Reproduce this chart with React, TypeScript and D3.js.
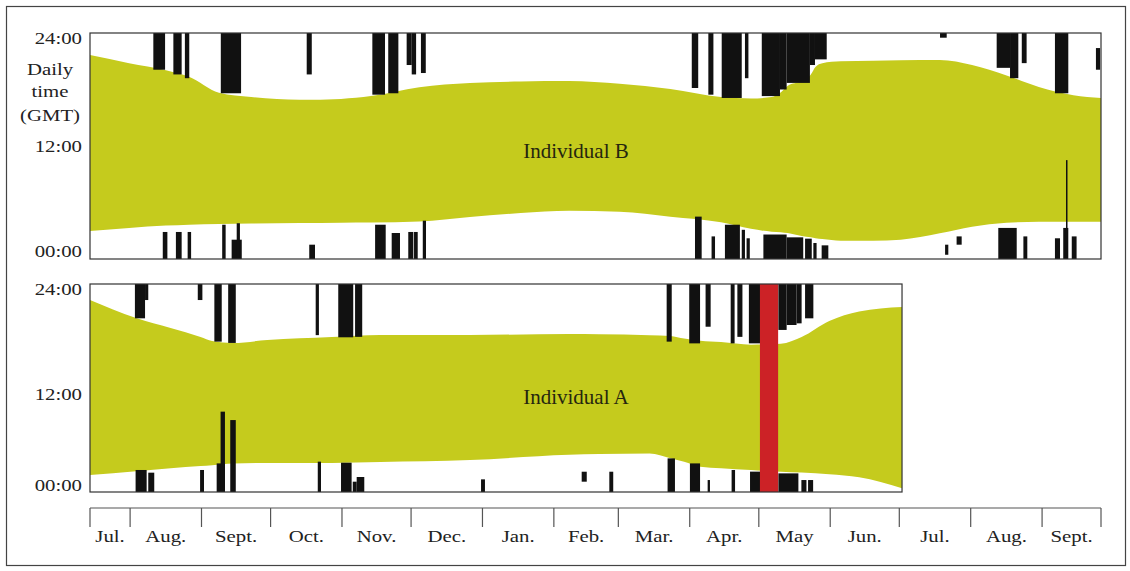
import React from "react";
import * as d3 from "d3";

// ---- time frame (tracking period) ----
const START = new Date(2009, 6, 14, 14);
const END = new Date(2010, 8, 26, 14);
const A_END_DAY = 352.6;
const MONTH_NAMES = ["Jan.", "Feb.", "Mar.", "Apr.", "May", "Jun.", "Jul.", "Aug.", "Sept.", "Oct.", "Nov.", "Dec."];
const HOUR_TICKS = [24, 12, 0];
const HOUR_LABELS = ["24:00", "12:00", "00:00"];
const Y_TITLE = ["Daily", "time", "(GMT)"];

// ---- daylight band (day index since start, sunrise hour, sunset hour) ----
const DAYS_B = [0, 17, 33, 43, 56, 70, 91, 109, 122, 143, 165, 187, 208, 230, 252, 274, 287, 296, 300, 303, 309, 313, 315, 318, 326, 340, 352, 369, 383, 398, 412, 427, 439];
const SET_B = [21.66, 20.8, 20.05, 19.35, 17.65, 17.2, 16.9, 17.0, 17.3, 18.25, 18.7, 18.85, 18.9, 18.6, 18.05, 17.2, 17.05, 17.2, 17.7, 18.4, 18.9, 19.6, 20.4, 20.8, 21.0, 21.05, 21.1, 21.13, 20.6, 19.5, 18.27, 17.4, 17.1];
const RISE_B = [2.97, 3.3, 3.55, 3.65, 3.72, 3.76, 3.82, 3.86, 3.88, 3.98, 4.46, 4.88, 5.13, 5.02, 4.5, 3.9, 3.2, 2.9, 2.85, 2.75, 2.45, 2.3, 2.2, 2.12, 1.95, 1.95, 2.05, 2.73, 3.43, 3.85, 3.96, 3.96, 3.96];

const DAYS_A = [0, 20, 35, 48, 53, 62, 77, 105, 126, 165, 208, 221, 243, 252, 258, 265, 274, 287, 300, 309, 321, 334, 352.6];
const SET_A = [22.15, 20.08, 18.92, 17.88, 17.42, 17.19, 17.54, 17.88, 18.12, 18.12, 18.23, 18.2, 18.1, 18.0, 17.7, 17.45, 17.31, 17.0, 17.1, 17.88, 19.73, 20.83, 21.35];
const RISE_A = [1.96, 2.4, 2.75, 3.0, 3.1, 3.3, 3.35, 3.35, 3.46, 3.69, 4.3, 4.38, 4.45, 3.9, 3.5, 2.92, 2.75, 2.54, 2.35, 2.25, 2.05, 1.7, 0.43];

// ---- activity bars: [dayStart, dayEnd, hourLow, hourHigh] ----
const BARS_B: number[][] = [
  [27.5, 32.6, 20.1, 24], [36.2, 39.8, 19.6, 24], [41.2, 43.1, 19.2, 24], [56.8, 65.6, 17.6, 24],
  [94.1, 96.3, 19.6, 24], [122.6, 128.1, 17.45, 24], [129.5, 133.9, 17.6, 24], [137.5, 139.7, 20.6, 24],
  [139.7, 141.6, 19.6, 24], [143.7, 145.8, 19.75, 24], [261.3, 264.1, 18.16, 24], [268.5, 270.7, 17.45, 24],
  [274.3, 283, 17.1, 24], [284.4, 285.9, 19.2, 24], [291.7, 299.6, 17.3, 24], [299.6, 302.5, 18.0, 24],
  [302.5, 312.6, 18.7, 24], [312.6, 314.8, 20.6, 24], [314.8, 319.9, 21.2, 24], [369.1, 372, 23.5, 24],
  [393.7, 399.5, 20.3, 24], [399.5, 403.1, 19.2, 24], [404.6, 406.7, 20.8, 24], [419, 424.8, 17.6, 24],
  [436.8, 438.6, 20.1, 22.4],
  [31.6, 33.6, 0, 2.87], [37.3, 39.8, 0, 2.87], [42.4, 43.9, 0, 2.87], [57.4, 58.9, 0, 3.64],
  [61.5, 65.9, 0, 2.05], [63.7, 65.1, 0, 3.8], [95.2, 97.7, 0, 1.52], [123.8, 128.4, 0, 3.64],
  [131, 134.6, 0, 2.76], [138.2, 140.4, 0, 2.87], [140.7, 142.3, 0, 2.87], [144.5, 145.9, 0, 4.07],
  [262.7, 265.6, 0, 4.5], [269.9, 271.4, 0, 2.4], [275.7, 282.2, 0, 3.64], [283, 284.4, 0, 3.1],
  [285.1, 286.5, 0, 2.2], [292.4, 302.5, 0, 2.6], [302.5, 309.7, 0, 2.3], [310.5, 313.4, 0, 2.16],
  [314.1, 315.5, 0, 1.7], [317.7, 320.6, 0, 1.45], [371.3, 372.7, 0.45, 1.52], [376.3, 378.5, 1.52, 2.4],
  [394.4, 402.4, 0, 3.3], [405.3, 407, 0, 2.4], [419, 421.2, 0, 2.2], [422.6, 424.8, 0, 3.3],
  [423.8, 424.4, 0, 10.5], [426.3, 428.4, 0, 2.4],
];

const BARS_A: number[][] = [
  [19.5, 23.9, 20.04, 24], [23.9, 25.3, 22.15, 24], [46.8, 48.8, 22.15, 24], [54, 57.2, 17.35, 24],
  [60, 63.3, 17.2, 24], [98, 99.4, 18.1, 24], [107.8, 114.3, 17.85, 24], [115.1, 118.2, 17.9, 24],
  [250.4, 252.6, 17.35, 24], [260.2, 264.9, 17.15, 24], [267.3, 269.5, 19.07, 24], [278.2, 279.9, 17.15, 24],
  [281.1, 283.3, 17.9, 24], [286.1, 291.2, 17.15, 24], [298.9, 302.5, 18.7, 24], [302.5, 306.8, 19.27, 24],
  [306.8, 309, 19.46, 24], [310.5, 314.1, 20.04, 24],
  [19.8, 24.6, 0, 2.54], [25.3, 27.9, 0, 2.23], [47.8, 49.5, 0, 2.54], [55, 58.6, 0, 3.3],
  [56.7, 58.6, 0, 9.27], [60.9, 63.3, 0, 8.3], [98.9, 100.3, 0, 3.5], [109, 113.6, 0, 3.38],
  [114.1, 115.8, 0, 1.19], [115.8, 119.1, 0, 1.73], [169.8, 171.5, 0, 1.46], [213.5, 215.7, 1.19, 2.34],
  [225.5, 227.2, 0, 2.34], [250.8, 254, 0, 3.88], [260.5, 264.9, 0, 3.3], [268.2, 269.2, 0, 1.38],
  [278.6, 280.1, 0, 2.54], [286.6, 291, 0, 2.35], [298.9, 307.6, 0, 2.15], [308.9, 311.1, 0, 1.38],
  [311.8, 314, 0, 1.38],
];

const RED_BAND_A = [290.9, 298.8];

const GREEN = "#c5cb1d";
const RED = "#cc2226";
const FONT = "'Liberation Serif', 'DejaVu Serif', serif";

function Wide({ x, y, anchor = "middle", size = 16, sx = 1.3, children }: any) {
  return (
    <g transform={`translate(${x},${y}) scale(${sx},1)`}>
      <text x={0} y={0} textAnchor={anchor} fontFamily={FONT} fontSize={size} fill="#222">
        {children}
      </text>
    </g>
  );
}

export default function App() {
  const x = d3.scaleTime().domain([START, END]).range([90, 1101]);
  const dayDate = (d: number) => new Date(START.getTime() + d * 864e5);
  const dx = (d: number) => x(dayDate(d));
  const totalDays = (END.getTime() - START.getTime()) / 864e5;

  const panels = [
    { name: "Individual B", top: 33, bottom: 259, endDay: totalDays, days: DAYS_B, rise: RISE_B, set: SET_B, bars: BARS_B, red: null as number[] | null, labelOff: [11, 6, -2], nameY: 158 },
    { name: "Individual A", top: 284, bottom: 492, endDay: A_END_DAY, days: DAYS_A, rise: RISE_A, set: SET_A, bars: BARS_A, red: RED_BAND_A, labelOff: [11, 12, -1.5], nameY: 404 },
  ];

  const axisY = 508;
  const monthStarts = d3.timeMonth.range(d3.timeMonth.ceil(START), END);
  const bounds = [START, ...monthStarts, END];
  const monthSegs = bounds.slice(0, -1).map((b, i) => {
    const e = bounds[i + 1];
    return { mid: (x(b) + x(e)) / 2, name: MONTH_NAMES[b.getMonth()] };
  });

  return (
    <svg width={1130} height={571} style={{ position: "absolute", left: 0, top: 0, background: "#fff" }}>
      <rect x={6.5} y={6.5} width={1119} height={559} fill="#fff" stroke="#444" strokeWidth={1.2} />
      {panels.map((p, pi) => {
        const y = d3.scaleLinear().domain([0, 24]).range([p.bottom, p.top]);
        const area = d3
          .area<number>()
          .x((d) => dx(d))
          .y0((_, i) => y(p.rise[i]))
          .y1((_, i) => y(p.set[i]))
          .curve(d3.curveMonotoneX);
        const right = dx(p.endDay);
        return (
          <g key={pi}>
            <path d={area(p.days) || ""} fill={GREEN} />
            {p.bars.map((b, i) => {
              const x0 = dx(b[0]);
              const w = Math.max(1.5, dx(b[1]) - x0);
              return <rect key={i} x={x0} y={y(b[3])} width={w} height={y(b[2]) - y(b[3])} fill="#111" />;
            })}
            {p.red && <rect x={dx(p.red[0])} y={y(24)} width={dx(p.red[1]) - dx(p.red[0])} height={y(0) - y(24)} fill={RED} />}
            <rect x={90} y={p.top} width={right - 90} height={p.bottom - p.top} fill="none" stroke="#333" strokeWidth={1.2} />
            {HOUR_TICKS.map((h, i) => (
              <Wide key={h} x={82} y={y(h) + p.labelOff[i]} anchor="end" size={16} sx={1.3}>
                {HOUR_LABELS[i]}
              </Wide>
            ))}
            <text x={576} y={p.nameY} textAnchor="middle" fontFamily={FONT} fontSize={21} fill="#26260f">
              {p.name}
            </text>
          </g>
        );
      })}
      {Y_TITLE.map((t, i) => (
        <Wide key={t} x={50} y={[75, 97, 121][i]} anchor="middle" size={16} sx={1.3}>
          {t}
        </Wide>
      ))}
      <line x1={90} x2={1101} y1={axisY} y2={axisY} stroke="#555" strokeWidth={1.2} />
      {bounds.map((b, i) => (
        <line key={i} x1={x(b)} x2={x(b)} y1={axisY} y2={axisY + 19} stroke="#555" strokeWidth={1.2} />
      ))}
      {monthSegs.map((m, i) => (
        <Wide key={i} x={m.mid} y={542} anchor="middle" size={16} sx={1.3}>
          {m.name}
        </Wide>
      ))}
    </svg>
  );
}
